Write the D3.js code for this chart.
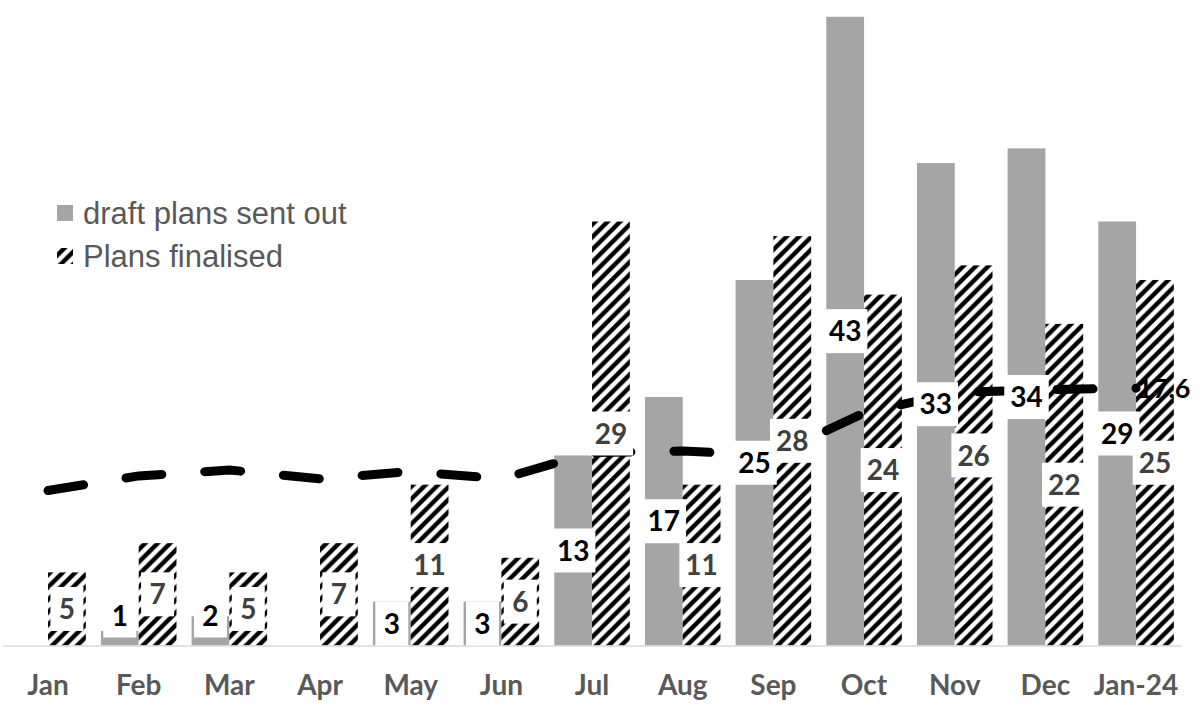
<!DOCTYPE html>
<html>
<head>
<meta charset="utf-8">
<script src="https://cdn.jsdelivr.net/npm/d3@7/dist/d3.min.js"></script>
<style>
  html, body { margin: 0; padding: 0; background: #fff; }
  svg { display: block; }
</style>
</head>
<body>
<svg id="chart" width="1200" height="709"></svg>
<script>
// Monthly counts of plans
const months = ["Jan", "Feb", "Mar", "Apr", "May", "Jun", "Jul", "Aug", "Sep", "Oct", "Nov", "Dec", "Jan-24"];
const draftSent = [0, 1, 2, 0, 3, 3, 13, 17, 25, 43, 33, 34, 29];
const finalised = [5, 7, 5, 7, 11, 6, 29, 11, 28, 24, 26, 22, 25];
// Rolling average trend (only the last point is labelled)
const trend = [10.6, 11.6, 12.0, 11.4, 11.9, 11.4, 13.2, 13.3, 13.0, 15.9, 17.3, 17.5, 17.6];
const seriesNames = ["draft plans sent out", "Plans finalised"];

const svg = d3.select("#chart");
const baseline = 645.5;

const GRAY = "#A5A5A5";
const labelFont = "Lato, 'Open Sans', sans-serif";

// hatch fill
const defs = svg.append("defs");
const hs = 12.5;
const pat = defs.append("pattern")
  .attr("id", "hatch")
  .attr("patternUnits", "userSpaceOnUse")
  .attr("width", hs).attr("height", hs);
pat.append("rect").attr("width", hs).attr("height", hs).attr("fill", "#fff");
pat.append("path")
  .attr("d", `M0,${hs} L${hs},0 M${-hs/2},${hs/2} L${hs/2},${-hs/2} M${hs/2},${hs*1.5} L${hs*1.5},${hs/2}`)
  .attr("stroke", "#000").attr("stroke-width", 4.4);

// scales
const x = d3.scaleBand()
  .domain(months)
  .range([2.7, 1181.4])
  .paddingInner(0.1667)
  .paddingOuter(0.0833);

const xSub = d3.scaleBand()
  .domain(["draft", "final"])
  .range([0, x.bandwidth()]);

const y = d3.scaleLinear().domain([0, 43]).range([baseline, 16.8]);

const rows = months.map((m, i) => ({ m, draft: draftSent[i], final: finalised[i], trend: trend[i] }));

// bars
const gBars = svg.append("g");
const groups = gBars.selectAll("g.grp").data(rows).join("g")
  .attr("class", "grp")
  .attr("transform", d => `translate(${x(d.m)},0)`);

groups.append("rect")
  .attr("x", xSub("draft"))
  .attr("width", xSub.bandwidth())
  .attr("y", d => y(d.draft))
  .attr("height", d => baseline - y(d.draft))
  .attr("fill", GRAY);

groups.append("rect")
  .attr("x", xSub("final"))
  .attr("width", xSub.bandwidth())
  .attr("y", d => y(d.final))
  .attr("height", d => baseline - y(d.final))
  .attr("fill", "url(#hatch)");

// category axis
const xAxis = d3.axisBottom(x).tickSize(0).tickPadding(0);
const gx = svg.append("g").attr("transform", `translate(0,${baseline})`).call(xAxis);
gx.select(".domain").attr("stroke", "#D9D9D9").attr("stroke-width", 1.5);
gx.selectAll("text")
  .attr("y", 49.5)
  .attr("dy", 0)
  .attr("fill", "#595959")
  .style("font-family", labelFont)
  .style("font-weight", "bold")
  .style("font-size", "28px");

// trend line
const line = d3.line()
  .x(d => x(d.m) + x.bandwidth() / 2)
  .y(d => y(d.trend));

svg.append("path")
  .datum(rows)
  .attr("d", line)
  .attr("fill", "none")
  .attr("stroke", "#000")
  .attr("stroke-width", 9)
  .attr("stroke-linecap", "round")
  .attr("stroke-dasharray", "36,43");

// bar value labels with white boxes
const gLabels = svg.append("g");
function addLabel(cx, value, color) {
  if (value <= 0) return;
  const boxH = 44;
  let cy = y(value / 2);
  if (cy + boxH / 2 > baseline + 1) cy = baseline - 8 - boxH / 2;
  const g = gLabels.append("g");
  const rect = g.append("rect").attr("fill", "#fff");
  const t = g.append("text")
    .attr("x", cx)
    .attr("y", cy)
    .attr("dy", "0.36em")
    .attr("text-anchor", "middle")
    .attr("fill", color)
    .style("font-family", labelFont)
    .style("font-weight", "bold")
    .style("font-size", "28px")
    .text(value);
  const tw = t.node().getComputedTextLength();
  const bw = Math.max(tw + 12, 33);
  rect.attr("x", cx - bw / 2).attr("y", cy - boxH / 2)
    .attr("width", bw).attr("height", boxH);
}

rows.forEach(d => {
  addLabel(x(d.m) + xSub("draft") + xSub.bandwidth() / 2, d.draft, "#000");
  addLabel(x(d.m) + xSub("final") + xSub.bandwidth() / 2, d.final, "#404040");
});

// label on last trend point
const last = rows[rows.length - 1];
svg.append("text")
  .attr("x", x(last.m) + x.bandwidth() / 2 + 1)
  .attr("y", y(last.trend))
  .attr("dy", "0.36em")
  .attr("fill", "#000")
  .style("font-family", labelFont)
  .style("font-weight", "bold")
  .style("font-size", "27px")
  .text(last.trend.toFixed(1));

// legend
const legend = svg.append("g");
const legendItems = [
  { name: seriesNames[0], fill: GRAY, top: 205, base: 224 },
  { name: seriesNames[1], fill: "url(#hatch)", top: 248, base: 267 }
];
legendItems.forEach(it => {
  legend.append("rect")
    .attr("x", 57).attr("y", it.top)
    .attr("width", 16).attr("height", 16)
    .attr("fill", it.fill);
  legend.append("text")
    .attr("x", 83).attr("y", it.base)
    .attr("fill", "#595959")
    .style("font-family", "'Liberation Sans', Arial, sans-serif")
    .style("font-size", "31px")
    .text(it.name);
});
</script>
</body>
</html>
